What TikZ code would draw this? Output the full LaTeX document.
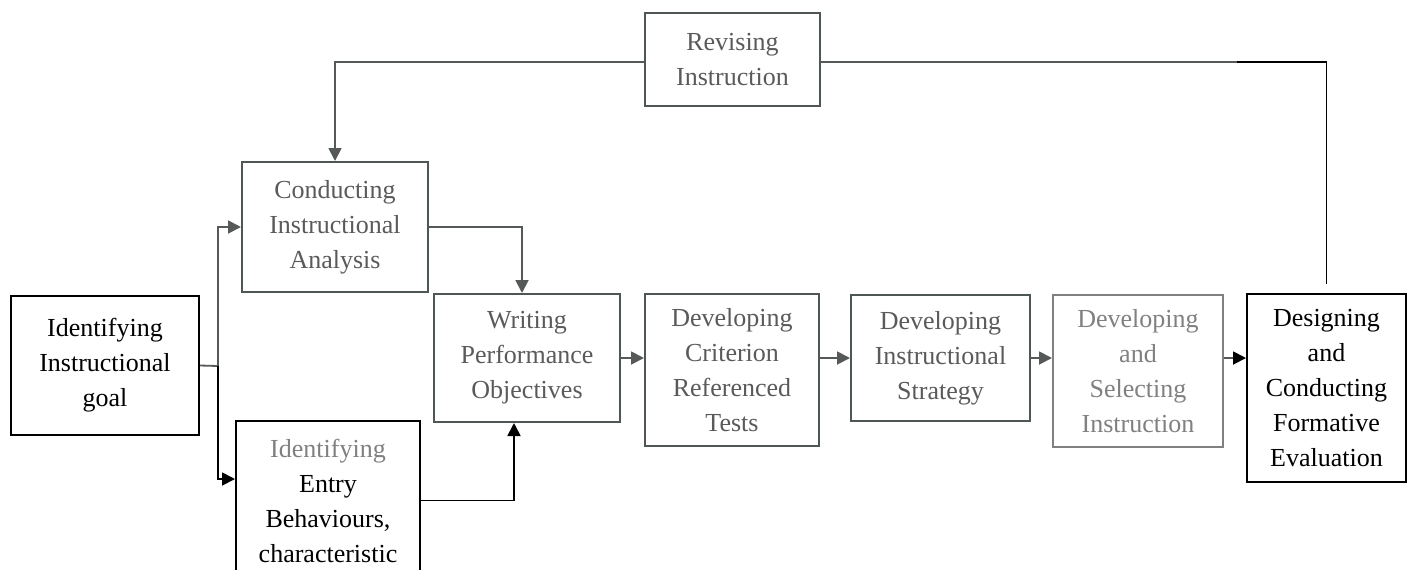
\documentclass[tikz,border=0pt]{standalone}
\usepackage{fontspec}
\setmainfont{Liberation Serif}
\usetikzlibrary{arrows.meta,calc}
\definecolor{boxgray}{HTML}{4F5753}
\definecolor{txtgray}{HTML}{5A5A5A}
\definecolor{lightgray}{HTML}{808080}
\definecolor{linegray}{HTML}{555A58}
\tikzset{
  box/.style={draw=boxgray, line width=1pt, align=center,
    font=\fontsize{13pt}{17.5pt}\selectfont, text=txtgray, inner sep=0pt},
  darkbox/.style={box, draw=black, text=black},
  lightbox/.style={box, draw=lightgray, text=lightgray},
  conn/.style={draw=linegray, line width=0.9pt},
  arr/.style={conn, -{Triangle[length=6.5pt,width=6.5pt]}},
  blacktip/.style={conn, -{Triangle[length=6.5pt,width=6.5pt,color=black]}},
}
\begin{document}
\begin{tikzpicture}[x=0.5pt,y=-0.5pt]
\path[use as bounding box, clip] (0,0) rectangle (1408,569);

\node[darkbox, minimum width=94pt, minimum height=69.5pt] (goal) at (105,365.5)
  {Identifying\\Instructional\\goal};
\node[box, minimum width=93pt, minimum height=65pt] (conduct) at (335,227)
  {Conducting\\Instructional\\Analysis};
\node[box, minimum width=87.5pt, minimum height=46.5pt] (revise) at (732.5,59.5)
  {Revising\\Instruction};
\node[box, minimum width=93pt, minimum height=64pt] (write) at (527,358)
  {Writing\\Performance\\Objectives};
\node[box, minimum width=87pt, minimum height=76pt] (crit) at (732,370)
  {Developing\\Criterion\\Referenced\\Tests};
\node[box, minimum width=89.5pt, minimum height=63pt] (strat) at (940.5,358)
  {Developing\\Instructional\\Strategy};
\node[lightbox, minimum width=85pt, minimum height=76pt] (select) at (1138,371)
  {Developing\\and\\Selecting\\Instruction};
\node[darkbox, minimum width=79.5pt, minimum height=94pt] (design) at (1326.5,388)
  {Designing\\and\\Conducting\\Formative\\Evaluation};
\node[darkbox, minimum width=92pt, minimum height=79.5pt] (entry) at (328,500.5)
  {{\color{lightgray}Identifying}\\Entry\\Behaviours,\\characteristic};

% goal to analysis and entry behaviours
\coordinate (j) at (218,366);
\draw[conn] (goal.east) -- (j);
\draw[arr] (j) |- (conduct.west);
\draw[arr, draw=black] (j) |- ($(entry.north west)+(0,59)$);

% to writing objectives
\draw[arr] (conduct.east) -| ($(write.north)+(-5,0)$);
\draw[arr, draw=black] (entry.east) -| ($(write.south)+(-13,0)$);

% main chain
\draw[arr] (write.east) -- (crit.west |- write.east);
\draw[arr] (crit.east |- strat.west) -- (strat.west);
\draw[arr] (strat.east) -- (select.west |- strat.east);
\draw[blacktip] (select.east |- strat.east) -- (design.west |- strat.east);

% feedback loop
\coordinate (fbmid) at (1237,62);
\coordinate (fbtop) at (design.north |- fbmid);
\draw[conn, draw=black] ($(design.north)+(0,-9)$) -- (fbtop) -- (fbmid);
\draw[conn] (fbmid) -- (revise.east |- fbmid);
\draw[arr] (revise.west |- fbmid) -| (conduct.north);
\end{tikzpicture}
\end{document}
